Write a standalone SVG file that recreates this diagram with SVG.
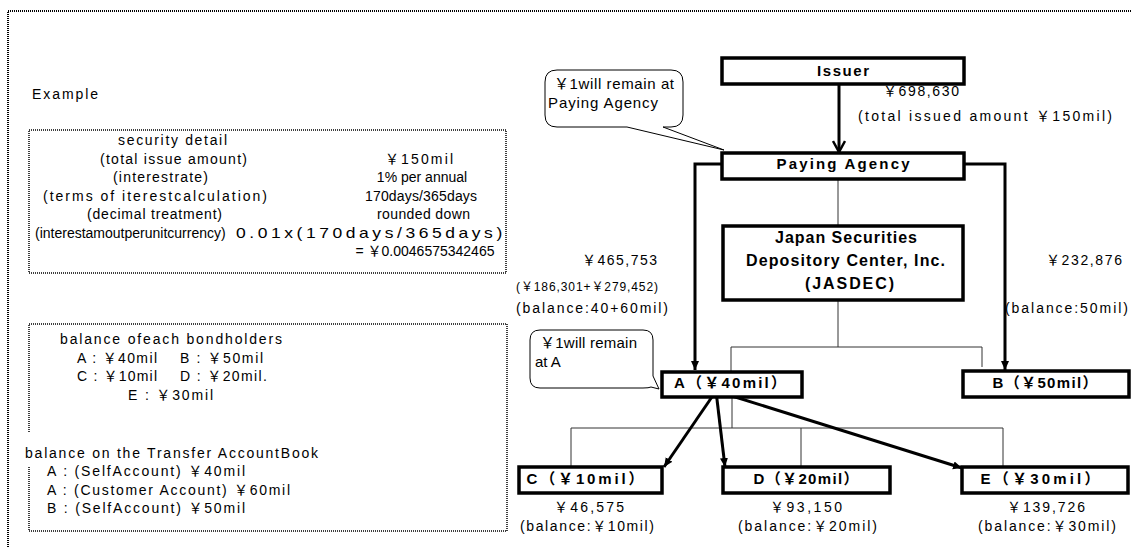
<svg xmlns="http://www.w3.org/2000/svg" width="1131" height="547" viewBox="0 0 1131 547">
<style>
.t{font-family:"Liberation Sans","Noto Sans CJK JP",sans-serif;font-size:14px;fill:#000}
.s{font-size:12px}
.c{font-family:"Liberation Sans","Noto Sans CJK JP",sans-serif;font-size:15px;fill:#000}
.b{font-family:"Liberation Sans","Noto Sans CJK JP",sans-serif;font-size:15px;font-weight:bold;fill:#000}
.bj{font-size:16px}
.dot{fill:none;stroke:#000;stroke-width:1.5;stroke-dasharray:1 1}
.outer{fill:none;stroke:#000;stroke-width:2;stroke-dasharray:1 1}
.node{fill:#fff;stroke:#000;stroke-width:3.5}
.thin{fill:none;stroke:#333;stroke-width:1}
.thick{fill:none;stroke:#000;stroke-width:3}
.call{fill:#fff;stroke:#000;stroke-width:1}
</style>
<defs>
<marker id="tri" markerUnits="userSpaceOnUse" markerWidth="10" markerHeight="10" refX="9" refY="5" orient="auto">
<path d="M0,1 L9,5 L0,9 Z" fill="#000"/>
</marker>
<marker id="vee" markerUnits="userSpaceOnUse" markerWidth="14" markerHeight="14" refX="12" refY="7" orient="auto">
<path d="M1,1 L12,7 L1,13" fill="none" stroke="#000" stroke-width="2.5"/>
</marker>
</defs>
<rect width="1131" height="547" fill="#fff"/>
<path class="outer" d="M8,547 V11 H1131"/>

<text class="t" x="32" y="99" textLength="66" lengthAdjust="spacing">Example</text>

<g id="security-detail">
<rect class="dot" x="29" y="130" width="477" height="143"/>
<text class="t" x="118" y="145" textLength="109" lengthAdjust="spacing">security detail</text>
<text class="t" x="100" y="163.5" textLength="147" lengthAdjust="spacing">(total issue amount)</text>
<text class="t" x="385" y="163.5" textLength="68" lengthAdjust="spacing">￥150mil</text>
<text class="t" x="113" y="182" textLength="95" lengthAdjust="spacing">(interestrate)</text>
<text class="t" x="422" y="182" text-anchor="middle">1% per annual</text>
<text class="t" x="43" y="200.5" textLength="224" lengthAdjust="spacing">(terms of iterestcalculation)</text>
<text class="t" x="365" y="200.5" textLength="112" lengthAdjust="spacing">170days/365days</text>
<text class="t" x="87" y="219" textLength="135" lengthAdjust="spacing">(decimal treatment)</text>
<text class="t" x="377" y="219" textLength="93" lengthAdjust="spacing">rounded down</text>
<text class="t" x="35" y="237.5">(interestamoutperunitcurrency)</text>
<text class="t" transform="translate(236,237.5) scale(1.25,1)" x="0" y="0" textLength="213" lengthAdjust="spacing">0.01x(170days/365days)</text>
<text class="t" x="425" y="256" text-anchor="middle">= ￥0.0046575342465</text>
</g>

<g id="balances">
<path class="dot" d="M29,432 V324 H507 V531 H29 V467"/>
<text class="t" x="60" y="344" textLength="222" lengthAdjust="spacing">balance ofeach bondholders</text>
<text class="t" x="77" y="362.5" textLength="80" lengthAdjust="spacing">A : ￥40mil</text>
<text class="t" x="180" y="362.5" textLength="83" lengthAdjust="spacing">B : ￥50mil</text>
<text class="t" x="77" y="381" textLength="80" lengthAdjust="spacing">C : ￥10mil</text>
<text class="t" x="180" y="381" textLength="87" lengthAdjust="spacing">D : ￥20mil.</text>
<text class="t" x="128" y="399.5" textLength="85" lengthAdjust="spacing">E : ￥30mil</text>
<text class="t" x="25" y="458" textLength="293" lengthAdjust="spacing">balance on the Transfer AccountBook</text>
<text class="t" x="47" y="476" textLength="198" lengthAdjust="spacing">A : (SelfAccount) ￥40mil</text>
<text class="t" x="47" y="494.5" textLength="243" lengthAdjust="spacing">A : (Customer Account) ￥60mil</text>
<text class="t" x="47" y="513" textLength="198" lengthAdjust="spacing">B : (SelfAccount) ￥50mil</text>
</g>

<g id="connectors">
<line class="thick" x1="839" y1="85" x2="839" y2="152" marker-end="url(#vee)"/>
<path class="thick" d="M722,164 H695 V370" marker-end="url(#tri)"/>
<path class="thick" d="M964,164 H1005 V370" marker-end="url(#tri)"/>
<path class="thin" d="M838,179 V226"/>
<path class="thin" d="M838,300 V347 M731,347 H982 M731,347 V372 M982,347 V367"/>
<path class="thin" d="M732,397 V428 M571,428 H1003 M571,428 V467 M801,428 V467 M1003,428 V467"/>
<line class="thick" x1="716" y1="391" x2="664" y2="467" marker-end="url(#tri)"/>
<line class="thick" x1="716" y1="391" x2="725" y2="467" marker-end="url(#tri)"/>
<line class="thick" x1="716" y1="391" x2="962" y2="468" marker-end="url(#tri)"/>
</g>

<g id="callout-paying">
<path class="call" d="M557,70 H671 Q683,70 683,82 V115 Q683,127 671,127 H663 L724,150 L627,127 H557 Q545,127 545,115 V82 Q545,70 557,70 Z"/>
<text class="c" x="554" y="89" textLength="120" lengthAdjust="spacing">￥1will remain at</text>
<text class="c" x="548" y="108" textLength="110" lengthAdjust="spacing">Paying Agency</text>
</g>

<g id="issuer">
<rect class="node" x="722" y="58" width="242" height="26"/>
<text class="b" x="843" y="76" text-anchor="middle" textLength="52" lengthAdjust="spacing">Issuer</text>
<text class="t" x="883" y="96" textLength="76" lengthAdjust="spacing">￥698,630</text>
<text class="t" x="858" y="121" textLength="254" lengthAdjust="spacing">(total issued amount ￥150mil)</text>
</g>

<g id="paying-agency">
<rect class="node" x="722" y="153" width="242" height="26"/>
<text class="b" x="843" y="169" text-anchor="middle" textLength="133" lengthAdjust="spacing">Paying Agency</text>
</g>

<g id="jasdec">
<rect class="node" x="723" y="226" width="240" height="74"/>
<text class="b bj" x="775" y="243" textLength="142" lengthAdjust="spacing">Japan Securities</text>
<text class="b bj" x="746" y="266" textLength="199" lengthAdjust="spacing">Depository Center, Inc.</text>
<text class="b bj" x="805" y="289" textLength="89" lengthAdjust="spacing">(JASDEC)</text>
</g>

<g id="amount-a">
<text class="t" x="582" y="265" textLength="75" lengthAdjust="spacing">￥465,753</text>
<text class="t s" x="516" y="291" textLength="142" lengthAdjust="spacing">(￥186,301+￥279,452)</text>
<text class="t" x="516" y="313" textLength="152" lengthAdjust="spacing">(balance:40+60mil)</text>
</g>

<g id="amount-b">
<text class="t" x="1046" y="265" textLength="76" lengthAdjust="spacing">￥232,876</text>
<text class="t" x="1005" y="313" textLength="123" lengthAdjust="spacing">(balance:50mil)</text>
</g>

<g id="callout-a">
<path class="call" d="M540,330 H643 Q653,330 653,340 V376 L659,389 L651,387 Q649,388 643,388 H540 Q530,388 530,378 V340 Q530,330 540,330 Z"/>
<text class="c" x="540" y="348" textLength="97" lengthAdjust="spacing">￥1will remain</text>
<text class="c" x="535" y="367">at A</text>
</g>

<g id="node-a">
<rect class="node" x="662" y="372" width="140" height="25"/>
<text class="b" x="730" y="388" text-anchor="middle" textLength="112" lengthAdjust="spacing">A（￥40mil）</text>
</g>

<g id="node-b">
<rect class="node" x="963" y="371" width="166" height="26"/>
<text class="b" x="1045" y="388" text-anchor="middle" textLength="105" lengthAdjust="spacing">B（￥50mil）</text>
</g>

<g id="node-c">
<rect class="node" x="519" y="467" width="143" height="26"/>
<text class="b" x="585" y="484" text-anchor="middle" textLength="117" lengthAdjust="spacing">C（￥10mil）</text>
<text class="t" x="589" y="511.5" text-anchor="middle" textLength="70" lengthAdjust="spacing">￥46,575</text>
<text class="t" x="520" y="530.5" textLength="134" lengthAdjust="spacing">(balance:￥10mil)</text>
</g>

<g id="node-d">
<rect class="node" x="723" y="467" width="167" height="26"/>
<text class="b" x="806" y="484" text-anchor="middle" textLength="105" lengthAdjust="spacing">D（￥20mil）</text>
<text class="t" x="806" y="511.5" text-anchor="middle" textLength="72" lengthAdjust="spacing">￥93,150</text>
<text class="t" x="738" y="530.5" textLength="139" lengthAdjust="spacing">(balance:￥20mil)</text>
</g>

<g id="node-e">
<rect class="node" x="962" y="467" width="166" height="26"/>
<text class="b" x="1040" y="484" text-anchor="middle" textLength="119" lengthAdjust="spacing">E（￥30mil）</text>
<text class="t" x="1046" y="511.5" text-anchor="middle" textLength="78" lengthAdjust="spacing">￥139,726</text>
<text class="t" x="978" y="530.5" textLength="138" lengthAdjust="spacing">(balance:￥30mil)</text>
</g>
</svg>
